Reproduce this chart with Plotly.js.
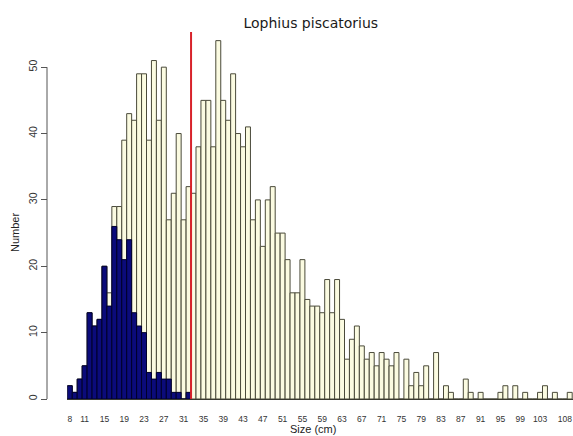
<!DOCTYPE html>
<html>
<head>
<meta charset="utf-8">
<script src="https://cdn.plot.ly/plotly-3.0.1.min.js"></script>
<style>
  html, body { margin: 0; padding: 0; background: #ffffff; }
  #chart { width: 573px; height: 436px; }
</style>
</head>
<body>
<div id="chart"></div>
<script>
// Size classes (cm)
const sizes = [];
for (let s = 8; s <= 109; s++) sizes.push(s);

// Total numbers per size class (beige bars)
const totalCounts = [
  2, 1, 3, 5, 13, 11, 12, 20, 16, 29,      // 8-17
  29, 39, 43, 42, 49, 49, 39, 51, 42, 50,  // 18-27
  27, 31, 40, 27, 32, 31, 38, 45, 45, 38,  // 28-37
  54, 45, 42, 49, 40, 38, 41, 27, 30, 23,  // 38-47
  30, 32, 25, 25, 21, 16, 16, 21, 15, 14,  // 48-57
  14, 13, 18, 13, 18, 12, 6, 9, 11, 8,     // 58-67
  6, 7, 5, 7, 6, 5, 7, 0, 6, 2,            // 68-77
  4, 2, 5, 0, 7, 0, 2, 1, 0, 0,            // 78-87
  3, 1, 0, 1, 0, 0, 0, 1, 2, 0,            // 88-97
  2, 0, 1, 0, 0, 1, 2, 0, 1, 0,            // 98-107
  0, 1                                     // 108-109
];

// Numbers of the subset (navy bars)
const subsetCounts = [
  2, 1, 3, 5, 13, 11, 12, 20, 14, 26,      // 8-17
  24, 21, 24, 13, 11, 10, 4, 3, 4, 3,      // 18-27
  3, 1, 1, 0, 1                            // 28-32
];

// Axis tick labels
const xTickVals = [8, 11, 15, 19, 23, 27, 31, 35, 39, 43, 47, 51, 55, 59, 63, 67, 71, 75, 79, 83, 87, 91, 95, 99, 103, 108];
const yTickVals = [0, 10, 20, 30, 40, 50];

// Reference size (red line)
const cutoffSize = 32.5;

const subsetSizes = sizes.slice(0, subsetCounts.length);

const W = 573, H = 436;
const mL = 47, mR = 0, mT = 32, mB = 37;
const plotW = W - mL - mR;
const pxPerBar = 4.95;
const barStartPx = 67.3 - mL;
const xDomStart = barStartPx / plotW;
const xMax = 7.5 + (plotW - barStartPx) / pxPerBar;

const titleFont = 'DejaVu Sans, Liberation Sans, Arial, sans-serif';
const axisFont = 'Liberation Sans, Arial, Helvetica, sans-serif';

const traces = [
  {
    type: 'bar',
    x: sizes,
    y: totalCounts,
    width: 1,
    marker: { color: '#FBFBE1', line: { color: '#4a4a3a', width: 1 } },
    hoverinfo: 'skip'
  },
  {
    type: 'bar',
    x: subsetSizes,
    y: subsetCounts,
    width: 1,
    marker: { color: '#0B0B7A', line: { color: '#00002a', width: 1 } },
    hoverinfo: 'skip'
  }
];

const layout = {
  width: W,
  height: H,
  margin: { l: mL, r: mR, t: mT, b: mB, pad: 0 },
  paper_bgcolor: '#ffffff',
  plot_bgcolor: '#ffffff',
  showlegend: false,
  barmode: 'overlay',
  bargap: 0,
  font: { family: axisFont, color: '#222' },
  title: {
    text: 'Lophius piscatorius',
    font: { family: titleFont, size: 14, color: '#1a1a1a' },
    xref: 'container', yref: 'container',
    x: 310.8 / W, y: 1 - 23 / H,
    xanchor: 'center', yanchor: 'middle'
  },
  xaxis: {
    domain: [xDomStart, 1],
    range: [7.5, xMax],
    tickmode: 'array',
    tickvals: xTickVals,
    ticktext: xTickVals.map(String),
    ticks: '',
    showline: true,
    linecolor: '#3a3a30',
    linewidth: 1,
    showgrid: false,
    zeroline: false,
    tickfont: { family: axisFont, size: 8.5, color: '#333' },
    ticklabelstandoff: 12
  },
  yaxis: {
    anchor: 'free',
    position: 0,
    range: [0, 55.3],
    tickmode: 'array',
    tickvals: yTickVals,
    ticktext: yTickVals.map(String),
    ticks: 'outside',
    ticklen: 6,
    tickwidth: 1,
    tickcolor: '#555',
    tickangle: -90,
    showline: false,
    showgrid: false,
    zeroline: false,
    tickfont: { family: axisFont, size: 10.5, color: '#333' }
  },
  shapes: [
    {
      type: 'line', xref: 'paper', yref: 'y',
      x0: 0, x1: 0, y0: yTickVals[0], y1: yTickVals[yTickVals.length - 1],
      line: { color: '#555', width: 1 }
    },
    {
      type: 'line', xref: 'x', yref: 'paper',
      x0: cutoffSize, x1: cutoffSize, y0: 0, y1: 1,
      line: { color: '#D8222A', width: 2 }
    }
  ],
  annotations: [
    {
      text: 'Number', textangle: -90, showarrow: false,
      xref: 'paper', yref: 'paper',
      x: (15 - mL) / plotW, y: (399 - 233) / (399 - mT),
      xanchor: 'center', yanchor: 'middle',
      font: { family: axisFont, size: 11, color: '#222' }
    },
    {
      text: 'Size (cm)', showarrow: false,
      xref: 'paper', yref: 'paper',
      x: (313 - mL) / plotW, y: -(429 - 399) / (399 - mT),
      xanchor: 'center', yanchor: 'middle',
      font: { family: axisFont, size: 11, color: '#222' }
    }
  ]
};

Plotly.newPlot('chart', traces, layout, { staticPlot: true, displayModeBar: false });
</script>
</body>
</html>
